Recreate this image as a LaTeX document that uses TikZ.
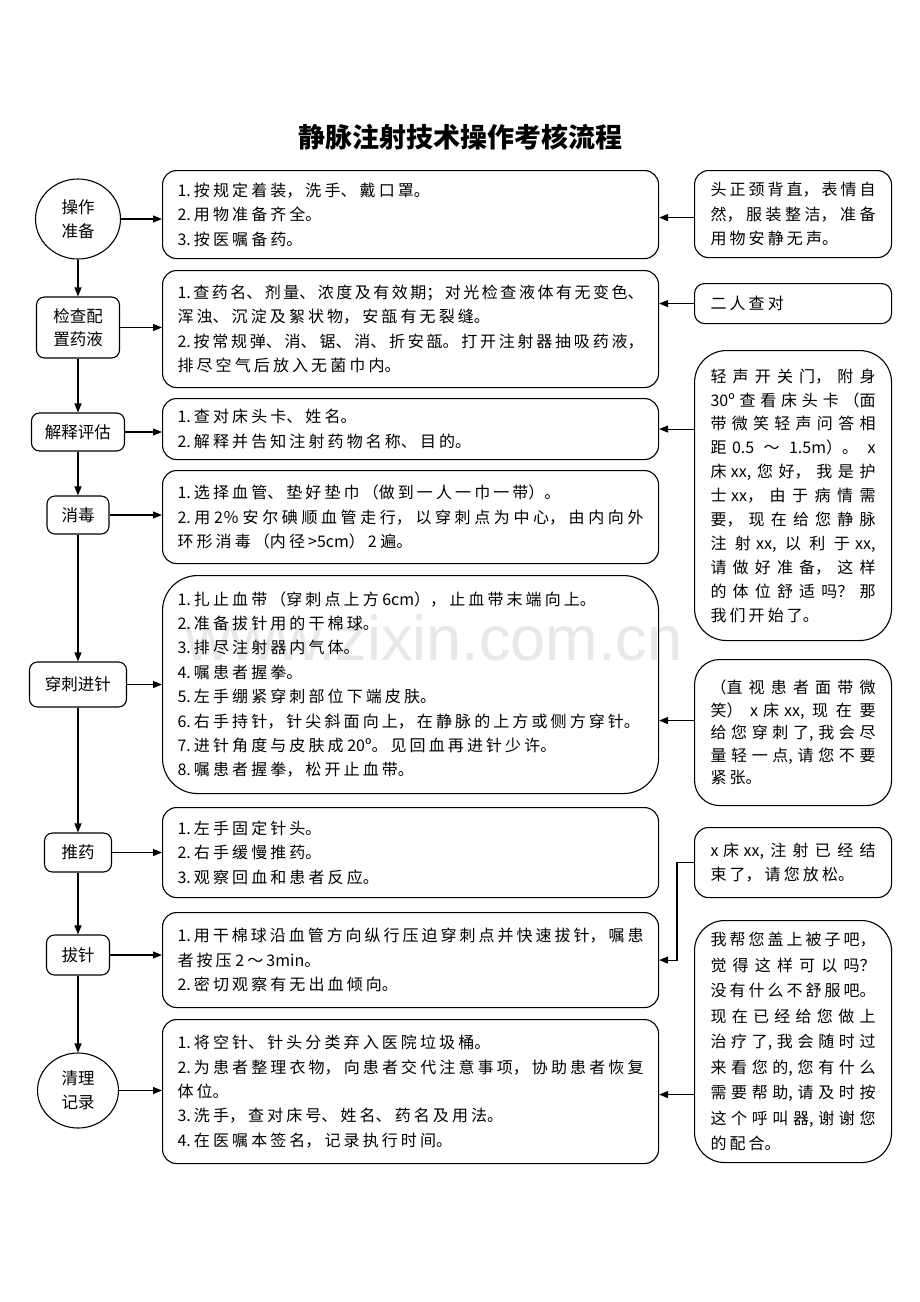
\documentclass[tikz,border=0pt]{standalone}
\usepackage{fontspec}
\setmainfont{Noto Sans CJK SC}
\newfontfamily\wmfont{Liberation Sans}
\XeTeXlinebreaklocale "zh"
\XeTeXlinebreakskip=3.1pt plus 6pt minus 3.1pt
\usetikzlibrary{arrows.meta,shapes.geometric}
\newcommand\bodytext{\fontsize{16}{24.4}\selectfont}
\begin{document}
\begin{tikzpicture}[x=1pt,y=-1pt,
  mid/.style={draw, line width=1.1pt, rounded corners=14pt, anchor=north west,
    inner xsep=15pt, inner ysep=0pt, align=justify, font=\bodytext, text width=466pt},
  rt/.style={draw, line width=1.1pt, rounded corners=14pt, anchor=north west,
    inner xsep=16pt, inner ysep=0pt, align=justify, font=\bodytext, text width=165pt},
  lf/.style={draw, line width=1.1pt, rounded corners=8pt, align=center, inner sep=0pt,
    font=\fontsize{16.5}{23}\selectfont},
  ell/.style={draw, line width=1.1pt, ellipse, align=center, inner sep=0pt,
    font=\fontsize{16.5}{24}\selectfont},
  arr/.style={line width=1.1pt, -{Triangle[length=9pt,width=7pt]}}
]
\path[use as bounding box, fill=white] (0,0) rectangle (920,1302);

% watermark
\node[font=\wmfont\fontsize{63}{63}\selectfont, text=gray!18, anchor=base west, inner sep=0pt] (wm) at (185,660) {www.zixin.com.cn};

% title
\node[font=\bfseries\fontsize{27}{30}\selectfont] (title) at (460,137) {静脉注射技术操作考核流程};

% left column
\node[ell, minimum width=85pt, minimum height=80pt] (e1) at (78,219) {操作\\准备};
\node[lf, minimum width=83pt, minimum height=61pt] (n2) at (78,327.5) {检查配\\置药液};
\node[lf, minimum width=93pt, minimum height=38pt] (n3) at (78,432) {解释评估};
\node[lf, minimum width=62pt, minimum height=38pt] (n4) at (78,515) {消毒};
\node[lf, minimum width=97pt, minimum height=45pt] (n5) at (78,684.5) {穿刺进针};
\node[lf, minimum width=67pt, minimum height=39pt] (n6) at (78,852.5) {推药};
\node[lf, minimum width=63pt, minimum height=40pt] (n7) at (78,955) {拔针};
\node[ell, minimum width=81pt, minimum height=75pt] (e8) at (78,1090.5) {清理\\记录};

% middle boxes
\node[mid, minimum height=88pt] (b1) at (162,170)
  {1.按规定着装，洗手、戴口罩。\\2.用物准备齐全。\\3.按医嘱备药。};
\node[mid, minimum height=117pt] (b2) at (162,270)
  {1.查药名、剂量、浓度及有效期；对光检查液体有无变色、\linebreak 浑浊、沉淀及絮状物，安瓿有无裂缝。\\2.按常规弹、消、锯、消、折安瓿。打开注射器抽吸药液，\linebreak 排尽空气后放入无菌巾内。};
\node[mid, minimum height=61pt] (b3) at (162,398)
  {1.查对床头卡、姓名。\\2.解释并告知注射药物名称、目的。};
\node[mid, minimum height=93pt] (b4) at (162,470)
  {1.选择血管、垫好垫巾（做到一人一巾一带）。\\2.用 2％安尔碘顺血管走行，以穿刺点为中心，由内向外\linebreak 环形消毒（内径>5cm）2 遍。};
\node[mid, minimum height=218pt, rounded corners=35pt] (b5) at (162,575)
  {1.扎止血带（穿刺点上方 6cm），止血带末端向上。\\2.准备拔针用的干棉球。\\3.排尽注射器内气体。\\4.嘱患者握拳。\\5.左手绷紧穿刺部位下端皮肤。\\6.右手持针，针尖斜面向上，在静脉的上方或侧方穿针。\\7.进针角度与皮肤成 20º。见回血再进针少许。\\8.嘱患者握拳，松开止血带。};
\node[mid, minimum height=90pt] (b6) at (162,807)
  {1.左手固定针头。\\2.右手缓慢推药。\\3.观察回血和患者反应。};
\node[mid, minimum height=95pt] (b7) at (162,912)
  {1.用干棉球沿血管方向纵行压迫穿刺点并快速拔针，嘱患\linebreak 者按压 2～3min。\\2.密切观察有无出血倾向。};
\node[mid, minimum height=144pt] (b8) at (162,1019)
  {1.将空针、针头分类弃入医院垃圾桶。\\2.为患者整理衣物，向患者交代注意事项，协助患者恢复\linebreak 体位。\\3.洗手，查对床号、姓名、药名及用法。\\4.在医嘱本签名，记录执行时间。};

% right boxes
\node[rt, minimum height=87pt] (r1) at (694,170)
  {头正颈背直，表情自\linebreak 然，服装整洁，准备\linebreak 用物安静无声。};
\node[rt, minimum height=40pt, rounded corners=10pt] (r2) at (694,283) {二人查对};
\node[rt, minimum height=290pt, rounded corners=32pt, font={\fontsize{16}{23.9}\selectfont}] (r3) at (694,350)
  {轻声开关门，附身\linebreak 30º查看床头卡（面\linebreak 带微笑轻声问答相\linebreak 距 0.5～1.5m）。x\linebreak 床 xx,您好，我是护\linebreak 士 xx，由于病情需\linebreak 要，现在给您静脉\linebreak 注射 xx,以利于 xx,\linebreak 请做好准备，这样\linebreak 的体位舒适吗？那\linebreak 我们开始了。};
\node[rt, minimum height=146pt, rounded corners=25pt, font={\fontsize{16}{22.5}\selectfont}] (r4) at (694,659)
  {（直视患者面带微\linebreak 笑）x 床 xx,现在要\linebreak 给您穿刺了,我会尽\linebreak 量轻一点,请您不要\linebreak 紧张。};
\node[rt, minimum height=70pt] (r5) at (694,827)
  {x 床 xx,注射已经结\linebreak 束了，请您放松。};
\node[rt, minimum height=242pt, rounded corners=30pt, font={\fontsize{16}{25.5}\selectfont}] (r6) at (694,920)
  {我帮您盖上被子吧，\linebreak 觉得这样可以吗？\linebreak 没有什么不舒服吧。\linebreak 现在已经给您做上\linebreak 治疗了,我会随时过\linebreak 来看您的,您有什么\linebreak 需要帮助,请及时按\linebreak 这个呼叫器,谢谢您\linebreak 的配合。};

% vertical flow
\draw[arr] (e1.south) -- (n2.north);
\draw[arr] (n2.south) -- (n3.north);
\draw[arr] (n3.south) -- (n4.north);
\draw[arr] (n4.south) -- (n5.north);
\draw[arr] (n5.south) -- (n6.north);
\draw[arr] (n6.south) -- (n7.north);
\draw[arr] (n7.south) -- (e8.north);

% left to middle
\draw[arr] (e1.east) -- (e1.east -| b1.west);
\draw[arr] (n2.east) -- (n2.east -| b2.west);
\draw[arr] (n3.east) -- (n3.east -| b3.west);
\draw[arr] (n4.east) -- (n4.east -| b4.west);
\draw[arr] (n5.east) -- (n5.east -| b5.west);
\draw[arr] (n6.east) -- (n6.east -| b6.west);
\draw[arr] (n7.east) -- (n7.east -| b7.west);
\draw[arr] (e8.east) -- (e8.east -| b8.west);

% right to middle
\draw[arr] ([yshift=-3pt]r1.west |- b1.east) -- ([yshift=-3pt]b1.east);
\draw[arr] (r2.west) -- (r2.west -| b2.east);
\draw[arr] (r3.west |- b3.east) -- (b3.east);
\draw[arr] ([yshift=12pt]r4.west) -- ([yshift=12pt]r4.west -| b5.east);
\draw[arr] (r5.west) -- ++(-17,0) |- (b7.east);
\draw[arr] ([yshift=-3pt]r6.west |- b8.east) -- ([yshift=-3pt]b8.east);
\end{tikzpicture}
\end{document}
